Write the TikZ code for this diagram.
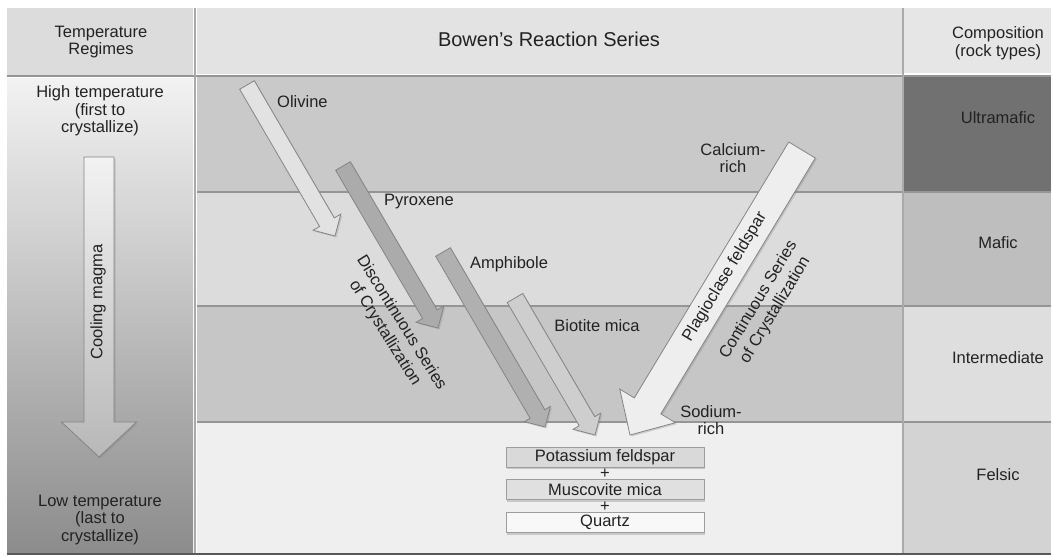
\documentclass[tikz,border=0pt]{standalone}
\usepackage{fontspec}
\setmainfont{Liberation Sans}
\usetikzlibrary{calc,shadows}
\definecolor{hdrL}{HTML}{DCDCDC}
\definecolor{hdrM}{HTML}{E3E3E3}
\definecolor{hdrR}{HTML}{E6E6E6}
\definecolor{lefttop}{HTML}{F2F2F2}
\definecolor{leftbot}{HTML}{8C8C8C}
\definecolor{rowA}{HTML}{C9C9C9}
\definecolor{rowB}{HTML}{DCDCDC}
\definecolor{rowC}{HTML}{C6C6C6}
\definecolor{rowD}{HTML}{EFEFEF}
\definecolor{ultra}{HTML}{717171}
\definecolor{mafic}{HTML}{BEBEBE}
\definecolor{inter}{HTML}{DEDEDE}
\definecolor{felsic}{HTML}{D3D3D3}
\definecolor{sepc}{HTML}{959595}
\definecolor{edgec}{HTML}{858585}
\definecolor{txt}{HTML}{222222}
\definecolor{olfill}{HTML}{E2E2E2}
\definecolor{pyfill}{HTML}{ABABAB}
\definecolor{amfill}{HTML}{B0B0B0}
\definecolor{bifill}{HTML}{CECECE}
\definecolor{plfill}{HTML}{EEEEEE}
\definecolor{kfill}{HTML}{D9D9D9}
\definecolor{mfill}{HTML}{E0E0E0}
\definecolor{qfill}{HTML}{F8F8F8}
\tikzset{
  lbl/.style={font=\fontsize{16.5}{17.5}\selectfont, inner sep=0pt, align=center, text=txt},
  rlbl/.style={lbl, font=\fontsize{16.5}{19.5}\selectfont},
  ttl/.style={font=\fontsize{20}{22}\selectfont, inner sep=0pt, text=txt},
  sepline/.style={draw=sepc, line width=2pt},
  arr/.style={draw=edgec, line width=0.8pt, line join=miter,
    drop shadow={opacity=0.3, shadow xshift=1.5pt, shadow yshift=-1.5pt}},
  mbox/.style={lbl, draw=edgec!80, line width=0.6pt, minimum width=198pt, minimum height=20pt,
    drop shadow={opacity=0.35, shadow xshift=1pt, shadow yshift=-2pt}},
}
% #1 style, #2 start, #3 tip, #4 half shaft, #5 half head, #6 head length
\newcommand\fatarrow[6]{%
  \path ($(#3)!#6!(#2)$) coordinate (hb);
  \path[#1] ($(#2)!#4!90:(#3)$) -- ($(hb)!#4!90:(#3)$) -- ($(hb)!#5!90:(#3)$) -- (#3)
     -- ($(hb)!#5!-90:(#3)$) -- ($(hb)!#4!-90:(#3)$) -- ($(#2)!#4!-90:(#3)$) -- cycle;
}
\begin{document}
\begin{tikzpicture}[x=1pt,y=-1pt]
\useasboundingbox (0,0) rectangle (1053,557);
\fill[white] (0,0) rectangle (1053,557);

% ---- left column
\fill[hdrL] (7,8) rectangle (193,75);
\shade[top color=lefttop, bottom color=leftbot] (7,78) rectangle (193,553);
% ---- middle column
\fill[hdrM] (197,8) rectangle (902,74);
\fill[rowA] (197,77) rectangle (902,191);
\fill[rowB] (197,192) rectangle (902,305);
\fill[rowC] (197,306) rectangle (902,421);
\fill[rowD] (197,422) rectangle (902,553);
% ---- right column
\fill[hdrR] (904,8) rectangle (1051,73);
\fill[ultra] (904,76) rectangle (1051,191);
\fill[mafic] (904,192) rectangle (1051,305);
\fill[inter] (904,306) rectangle (1051,421);
\fill[felsic] (904,422) rectangle (1051,553);
% ---- separators
\draw[sepline] (7,76) -- (1051,76);
\draw[sepline] (197,191.5) -- (1051,191.5);
\draw[sepline] (197,305.5) -- (1051,305.5);
\draw[sepline] (197,421.5) -- (1051,421.5);
\draw[draw=sepc!80, line width=2pt] (195,8) -- (195,553);
\draw[draw=sepc!80, line width=2pt] (903,8) -- (903,553);
\draw[draw=black!65, line width=2pt] (7,554) -- (1051,554);

% ---- arrows
\coordinate (coolS) at (99,157);  \coordinate (coolT) at (99,457);
\coordinate (olS) at (247,85);    \coordinate (olT) at (335,236);
\coordinate (pyS) at (343,166);   \coordinate (pyT) at (438,328);
\coordinate (amS) at (443,252);   \coordinate (amT) at (545,427);
\coordinate (biS) at (515,298);   \coordinate (biT) at (595,435);
\coordinate (plS) at (802,150);   \coordinate (plT) at (630,435);

\fatarrow{arr, top color=white!95!black, bottom color=black!28}{coolS}{coolT}{15pt}{37.5pt}{35pt}
\fatarrow{arr, fill=olfill}{olS}{olT}{8.5pt}{16pt}{16pt}
\fatarrow{arr, fill=pyfill}{pyS}{pyT}{8.5pt}{16pt}{16pt}
\fatarrow{arr, fill=amfill}{amS}{amT}{8.5pt}{15pt}{15pt}
\fatarrow{arr, fill=bifill}{biS}{biT}{9pt}{16pt}{16pt}
\fatarrow{arr, fill=plfill}{plS}{plT}{15.5pt}{32.5pt}{34pt}

% ---- header texts
\node[lbl] (temphdr) at (101,42) {Temperature\\Regimes};
\node[ttl] (title) at (549,39) {Bowen's Reaction Series};
\node[lbl] (comphdr) at (998,43) {Composition\\(rock types)};
% ---- left texts
\node[lbl] (hightemp) at (100,111) {High temperature\\(first to\\crystallize)};
\node[lbl, rotate=90] (cool) at (98,302) {Cooling magma};
\node[lbl] (lowtemp) at (100,520) {Low temperature\\(last to\\crystallize)};
% ---- right texts
\node[lbl] (ultramafic) at (998,118) {Ultramafic};
\node[lbl] (maficlbl) at (998,243) {Mafic};
\node[lbl] (intermediate) at (998,358) {Intermediate};
\node[lbl] (felsiclbl) at (998,475) {Felsic};
% ---- mineral labels
\node[lbl, anchor=west] (olivine) at (277,102) {Olivine};
\node[lbl] (pyroxene) at (419,202) {Pyroxene};
\node[lbl] (amphibole) at (509,264) {Amphibole};
\node[lbl] (biotite) at (597,326) {Biotite mica};
\node[lbl] (calcium) at (733,158) {Calcium-\\rich};
\node[lbl] (sodium) at (711,420) {Sodium-\\rich};
\node[rlbl, rotate=-58] (disc) at (393,328) {Discontinuous Series\\of Crystallization};
\node[lbl, rotate=59] (plag) at (725,277) {Plagioclase feldspar};
\node[rlbl, rotate=59] (cont) at (767,305) {Continuous Series\\of Crystallization};
% ---- final boxes
\node[mbox, fill=kfill] (kspar) at (605,457) {Potassium feldspar};
\node[lbl] (plusA) at (605,474) {+};
\node[mbox, fill=mfill] (musc) at (605,489.5) {Muscovite mica};
\node[lbl] (plusB) at (605,507) {+};
\node[mbox, fill=qfill] (quartz) at (605,522.5) {Quartz};
\end{tikzpicture}
\end{document}
